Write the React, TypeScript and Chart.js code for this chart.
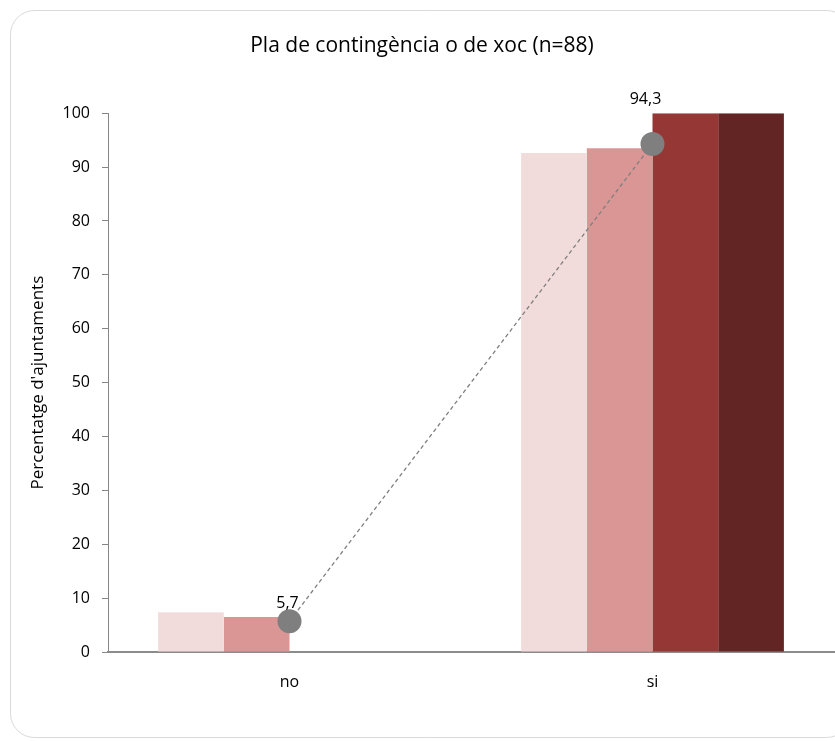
import React, { useEffect, useRef } from "react";
import { Chart, registerables } from "chart.js";

Chart.register(...registerables);

const categories = ["no", "si"];
const series1 = [7.4, 92.6];
const series2 = [6.5, 93.5];
const series3 = [0, 100];
const series4 = [0, 100];
const totalLine = [5.7, 94.3];
const totalLabels = ["5,7", "94,3"];
const seriesNames = ["Sèrie 1", "Sèrie 2", "Sèrie 3", "Sèrie 4", "Total"];
const yTicks = [0, 10, 20, 30, 40, 50, 60, 70, 80, 90, 100];

const FONT = "'Open Sans', 'Liberation Sans', sans-serif";

const frame = {
  id: "frame",
  beforeDraw(chart: any) {
    const ctx = chart.ctx;
    ctx.save();
    ctx.fillStyle = "#ffffff";
    ctx.fillRect(0, 0, chart.width, chart.height);
    ctx.strokeStyle = "#d9d9d9";
    ctx.lineWidth = 1;
    ctx.beginPath();
    (ctx as any).roundRect(10.5, 10.5, 840, 727, 24);
    ctx.stroke();
    ctx.restore();
  },
};

const pointLabels = {
  id: "pointLabels",
  afterDatasetsDraw(chart: any) {
    const meta = chart.getDatasetMeta(0);
    const ctx = chart.ctx;
    ctx.save();
    ctx.fillStyle = "#000000";
    ctx.font = `16px ${FONT}`;
    ctx.textAlign = "center";
    ctx.textBaseline = "middle";
    const offsets = [
      [-2, -18],
      [-7, -44],
    ];
    meta.data.forEach((p: any, i: number) => {
      ctx.fillText(totalLabels[i], p.x + offsets[i][0], p.y + offsets[i][1]);
    });
    ctx.restore();
  },
};

export default function App() {
  const ref = useRef<HTMLCanvasElement>(null);
  useEffect(() => {
    document.body.style.margin = "0";
    document.body.style.overflow = "hidden";
    const chart = new Chart(ref.current as HTMLCanvasElement, {
      type: "bar",
      data: {
        labels: categories,
        datasets: [
          { type: "line", label: seriesNames[4], data: totalLine, borderColor: "#7f7f7f", borderWidth: 1.3, borderDash: [4, 3], pointRadius: 12, pointHoverRadius: 12, pointBackgroundColor: "#7f7f7f", pointBorderWidth: 0, order: 0 } as any,
          { label: seriesNames[0], data: series1, backgroundColor: "#f2dcdb", order: 1 },
          { label: seriesNames[1], data: series2, backgroundColor: "#d99694", order: 1 },
          { label: seriesNames[2], data: series3, backgroundColor: "#953735", order: 1 },
          { label: seriesNames[3], data: series4, backgroundColor: "#632523", order: 1 },
        ] as any,
      },
      options: {
        responsive: false,
        animation: false,
        events: [],
        datasets: { bar: { barPercentage: 1, categoryPercentage: 0.724, borderWidth: 0 } } as any,
        layout: { autoPadding: false, padding: { left: 10, right: 1, top: 0, bottom: 0 } },
        plugins: {
          legend: { display: false },
          tooltip: { enabled: false },
          title: {
            display: true,
            text: "Pla de contingència o de xoc (n=88)",
            color: "#000000",
            font: { family: FONT, size: 21, weight: "normal" as any, lineHeight: 1.2 },
            padding: { top: 33, bottom: 55 },
          },
        },
        scales: {
          x: {
            grid: { display: true, drawOnChartArea: false, drawTicks: true, tickLength: 18, color: "rgba(0,0,0,0)" },
            border: { display: true, color: "#8c8c8c", width: 2 },
            ticks: { color: "#000000", font: { family: FONT, size: 16 }, padding: 3 },
            afterFit(scale: any) {
              scale.height = 89;
            },
          },
          y: {
            min: 0,
            max: 100,
            afterBuildTicks(scale: any) {
              scale.ticks = yTicks.map((v) => ({ value: v }));
            },
            grid: { display: true, drawOnChartArea: false, drawTicks: true, tickLength: 6, color: "#868686" },
            border: { display: true, color: "#868686", width: 1 },
            ticks: { color: "#000000", font: { family: FONT, size: 16 }, padding: 12 },
            title: {
              display: true,
              text: "Percentatge d'ajuntaments",
              color: "#000000",
              font: { family: FONT, size: 17 },
              padding: { top: 18, bottom: 0 },
            },
            afterFit(scale: any) {
              scale.width = 98;
            },
          },
        },
      },
      plugins: [frame, pointLabels],
    });
    return () => chart.destroy();
  }, []);
  return <canvas ref={ref} width={835} height={741} style={{ display: "block" }} />;
}
